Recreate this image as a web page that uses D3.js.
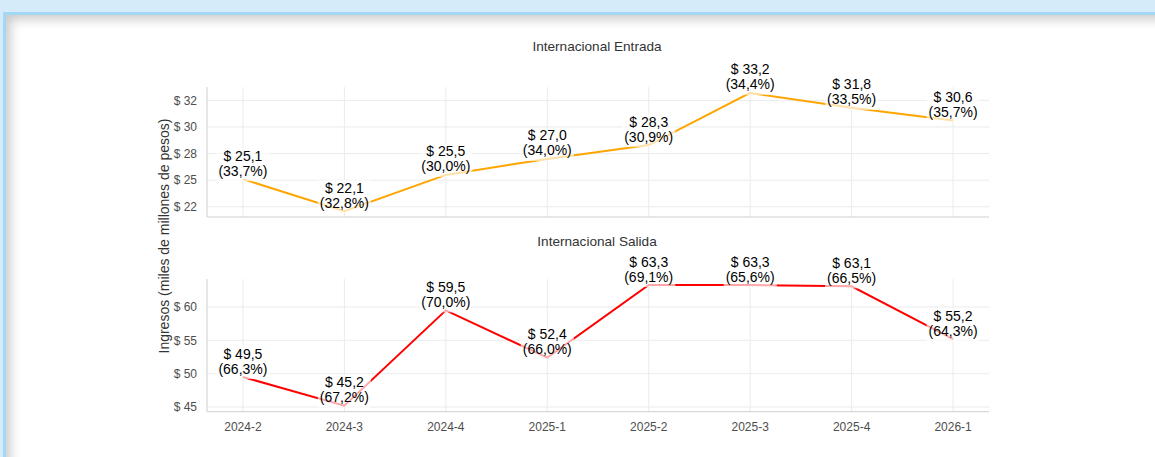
<!DOCTYPE html>
<html>
<head>
<meta charset="utf-8">
<script src="https://cdn.jsdelivr.net/npm/d3@7"></script>
<style>
  html, body { margin: 0; padding: 0; }
  body {
    width: 1155px; height: 457px; overflow: hidden; position: relative;
    background: #d5ebf9;
    font-family: "Liberation Sans", Arial, sans-serif;
  }
  #card {
    position: absolute; left: 3px; top: 12px; width: 1170px; height: 460px;
    background: #fff;
    border-left: 3px solid #a3d8f4; border-top: 3px solid #a3d8f4;
    box-shadow: inset 7px 7px 12px -3px rgba(0,0,0,0.22);
  }
  svg { position: absolute; left: 0; top: 0; }
</style>
</head>
<body>
<div id="card"></div>
<div id="chart"></div>
<script>
// data
const periods = ["2024-2", "2024-3", "2024-4", "2025-1", "2025-2", "2025-3", "2025-4", "2026-1"];
const entradaValues = [25.1, 22.1, 25.5, 27.0, 28.3, 33.2, 31.8, 30.6];
const entradaShare = [33.7, 32.8, 30.0, 34.0, 30.9, 34.4, 33.5, 35.7];
const salidaValues = [49.5, 45.2, 59.5, 52.4, 63.3, 63.3, 63.1, 55.2];
const salidaShare = [66.3, 67.2, 70.0, 66.0, 69.1, 65.6, 66.5, 64.3];
const entradaTicks = [22.5, 25, 27.5, 30, 32.5];
const entradaTickLabels = ["$ 22", "$ 25", "$ 28", "$ 30", "$ 32"];
const salidaTicks = [45, 50, 55, 60];
const salidaTickLabels = ["$ 45", "$ 50", "$ 55", "$ 60"];

const width = 1155, height = 457;
const plotLeft = 207, plotRight = 989;

const svg = d3.select("#chart").append("svg")
    .attr("width", width).attr("height", height);

const x = d3.scalePoint()
    .domain(periods)
    .range([plotLeft, plotRight])
    .padding(0.354);

const fmt = v => v.toFixed(1).replace(".", ",");

function drawPanel(opts) {
    const { title, titleY, top, bottom, values, shares, ticks, tickLabels, color, showX } = opts;
    const lo = d3.min(values), hi = d3.max(values);
    const pad = (hi - lo) * 0.05;
    const y = d3.scaleLinear().domain([lo - pad, hi + pad]).range([bottom, top]);

    const g = svg.append("g");

    // grid
    g.selectAll(".hgrid").data(ticks).join("line")
        .attr("x1", plotLeft).attr("x2", plotRight)
        .attr("y1", d => y(d)).attr("y2", d => y(d))
        .attr("stroke", "#ebebeb").attr("stroke-width", 1);
    g.selectAll(".vgrid").data(periods).join("line")
        .attr("x1", d => x(d)).attr("x2", d => x(d))
        .attr("y1", top).attr("y2", bottom)
        .attr("stroke", "#ebebeb").attr("stroke-width", 1);

    // axis lines
    g.append("line").attr("x1", plotLeft).attr("x2", plotLeft).attr("y1", top).attr("y2", bottom)
        .attr("stroke", "#cfcfcf").attr("stroke-width", 1);
    g.append("line").attr("x1", plotLeft).attr("x2", plotRight).attr("y1", bottom).attr("y2", bottom)
        .attr("stroke", "#cfcfcf").attr("stroke-width", 1);

    // y tick labels
    g.selectAll(".ylab").data(ticks).join("text")
        .attr("x", plotLeft - 10).attr("y", d => y(d)).attr("dy", "0.35em")
        .attr("text-anchor", "end").attr("font-size", 12).attr("fill", "#4d4d4d")
        .text((d, i) => tickLabels[i]);

    // title
    svg.append("text").attr("x", (plotLeft + plotRight) / 2 - 1).attr("y", titleY)
        .attr("text-anchor", "middle").attr("font-size", 13.6).attr("fill", "#333")
        .text(title);

    // line
    const line = d3.line().x((d, i) => x(periods[i])).y(d => y(d));
    g.append("path").datum(values).attr("d", line)
        .attr("fill", "none").attr("stroke", color).attr("stroke-width", 2);

    // labels with translucent white box
    const lab = g.selectAll(".lab").data(values).join("g")
        .attr("transform", (d, i) => `translate(${x(periods[i])},${y(d) - 16})`);
    lab.append("text").attr("y", -2.5).attr("text-anchor", "middle")
        .attr("font-size", 14).attr("fill", "#000").text(d => "$ " + fmt(d));
    lab.append("text").attr("y", 12.5).attr("text-anchor", "middle")
        .attr("font-size", 14).attr("fill", "#000").text((d, i) => "(" + fmt(shares[i]) + "%)");
    lab.each(function () {
        const node = d3.select(this);
        const w = d3.max(node.selectAll("text").nodes(), n => n.getComputedTextLength());
        node.insert("rect", "text")
            .attr("x", -w / 2 - 2).attr("y", -15).attr("width", w + 4).attr("height", 33)
            .attr("fill", "#fff").attr("fill-opacity", 0.65);
    });

    if (showX) {
        svg.selectAll(".xlab").data(periods).join("text")
            .attr("x", d => x(d)).attr("y", bottom + 15).attr("dy", "0.35em")
            .attr("text-anchor", "middle").attr("font-size", 12).attr("fill", "#4d4d4d")
            .text(d => d);
    }
}

drawPanel({
    title: "Internacional Entrada", titleY: 51, top: 87, bottom: 217,
    values: entradaValues, shares: entradaShare,
    ticks: entradaTicks, tickLabels: entradaTickLabels, color: "#ffa500", showX: false
});

drawPanel({
    title: "Internacional Salida", titleY: 246, top: 279, bottom: 411.7,
    values: salidaValues, shares: salidaShare,
    ticks: salidaTicks, tickLabels: salidaTickLabels, color: "#ff0000", showX: true
});

// y axis title
svg.append("text")
    .attr("transform", "translate(169,236) rotate(-90)")
    .attr("text-anchor", "middle").attr("font-size", 14).attr("fill", "#333")
    .text("Ingresos (miles de millones de pesos)");
</script>
</body>
</html>
